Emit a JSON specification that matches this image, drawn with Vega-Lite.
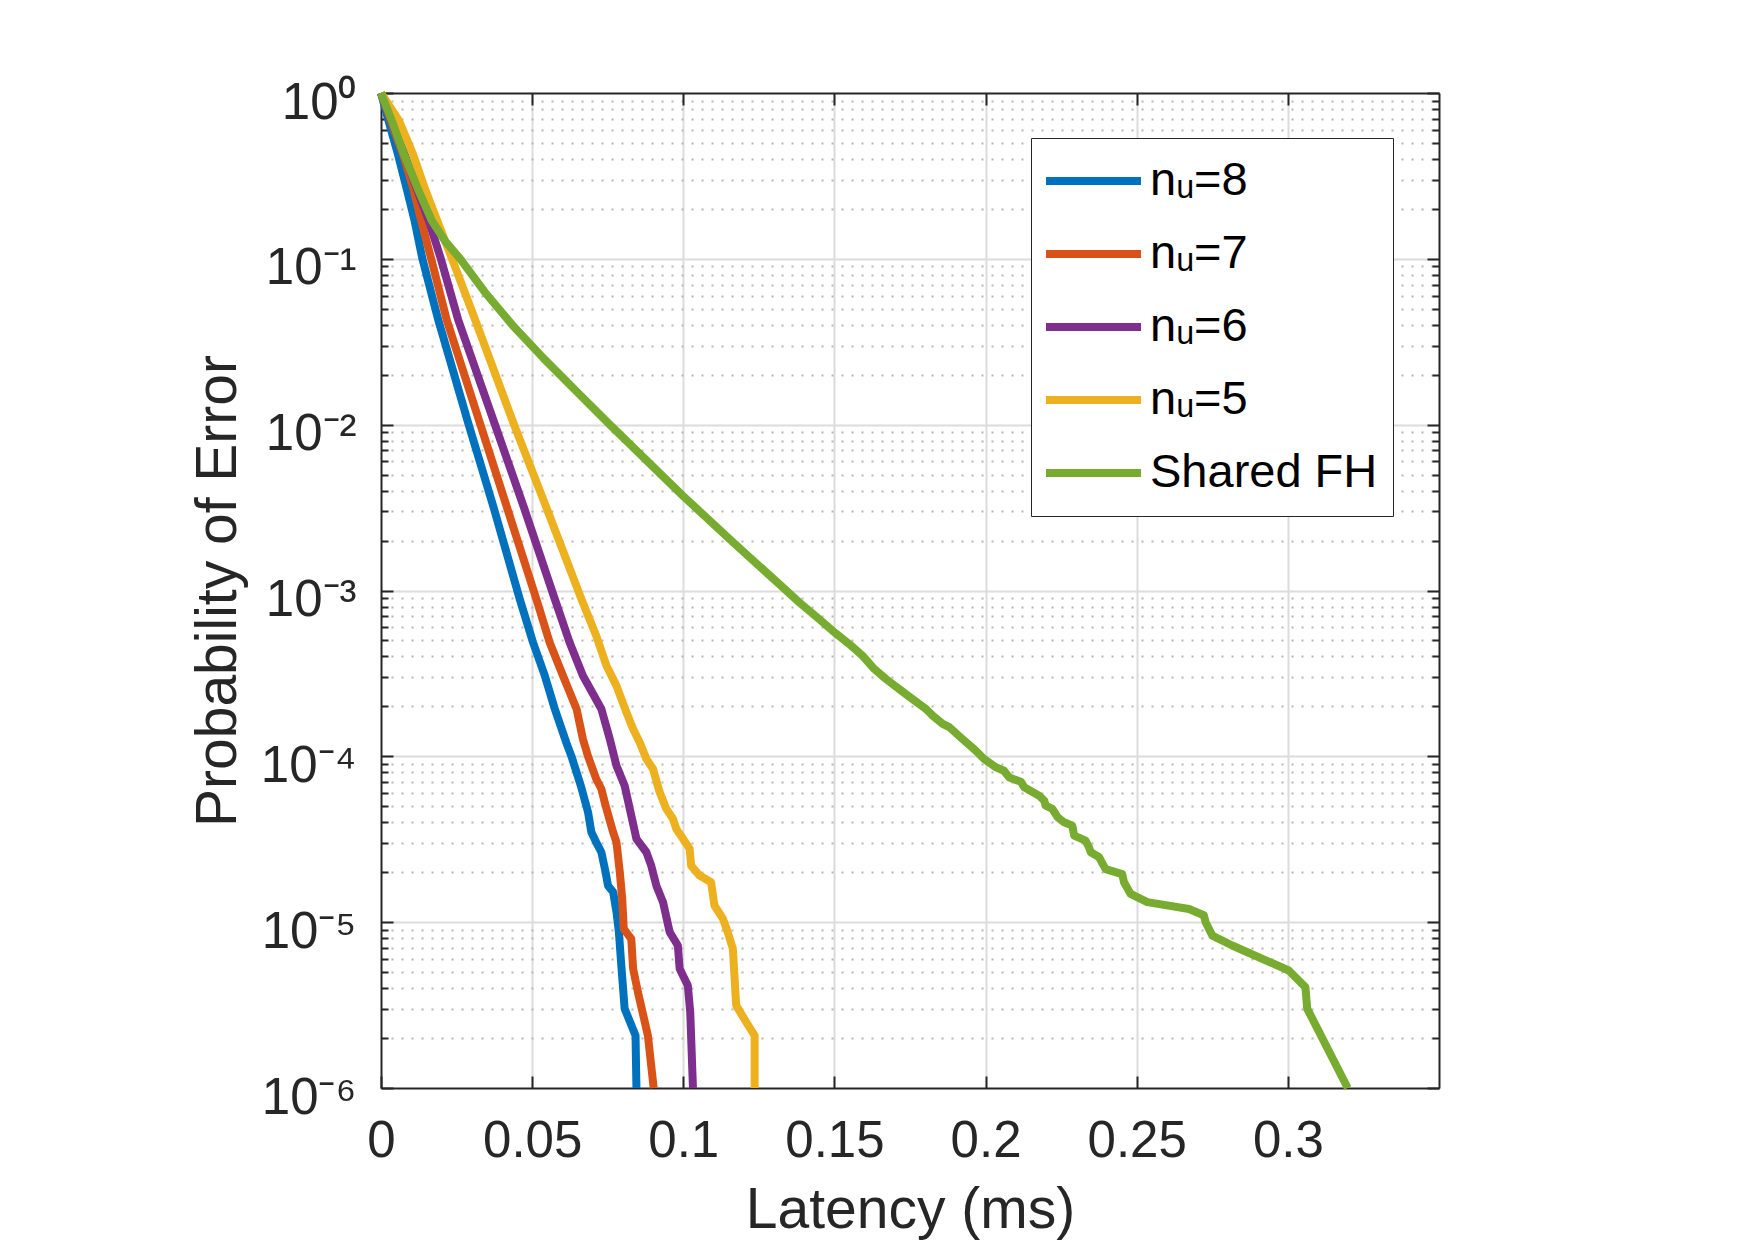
{
  "$schema": "https://vega.github.io/schema/vega-lite/v6.json",
  "width": 1058,
  "height": 995,
  "autosize": {"type": "none"},
  "padding": {"left": 381, "top": 93, "right": 315, "bottom": 153},
  "background": "white",
  "config": {
    "view": {"stroke": null},
    "font": "Liberation Sans"
  },
  "layer": [
    {
      "data": {
        "values": [
          {"series": "nᵤ=8", "x": 0, "p": 1},
          {"series": "nᵤ=8", "x": 0.0025, "p": 0.678},
          {"series": "nᵤ=8", "x": 0.0056, "p": 0.427},
          {"series": "nᵤ=8", "x": 0.0084, "p": 0.269},
          {"series": "nᵤ=8", "x": 0.0111, "p": 0.17},
          {"series": "nᵤ=8", "x": 0.0137, "p": 0.1},
          {"series": "nᵤ=8", "x": 0.0189, "p": 0.0431},
          {"series": "nᵤ=8", "x": 0.029, "p": 0.01},
          {"series": "nᵤ=8", "x": 0.0371, "p": 0.00324},
          {"series": "nᵤ=8", "x": 0.0459, "p": 0.000887},
          {"series": "nᵤ=8", "x": 0.0503, "p": 0.000486},
          {"series": "nᵤ=8", "x": 0.0542, "p": 0.000306},
          {"series": "nᵤ=8", "x": 0.0575, "p": 0.000193},
          {"series": "nᵤ=8", "x": 0.0613, "p": 0.000121},
          {"series": "nᵤ=8", "x": 0.063, "p": 0.0001},
          {"series": "nᵤ=8", "x": 0.0661, "p": 6.65e-5},
          {"series": "nᵤ=8", "x": 0.0685, "p": 4.6e-5},
          {"series": "nᵤ=8", "x": 0.0696, "p": 3.48e-5},
          {"series": "nᵤ=8", "x": 0.0712, "p": 3.03e-5},
          {"series": "nᵤ=8", "x": 0.0729, "p": 2.64e-5},
          {"series": "nᵤ=8", "x": 0.0743, "p": 2.0e-5},
          {"series": "nᵤ=8", "x": 0.0751, "p": 1.66e-5},
          {"series": "nᵤ=8", "x": 0.0768, "p": 1.52e-5},
          {"series": "nᵤ=8", "x": 0.0779, "p": 1.15e-5},
          {"series": "nᵤ=8", "x": 0.0787, "p": 8.71e-6},
          {"series": "nᵤ=8", "x": 0.0795, "p": 5.48e-6},
          {"series": "nᵤ=8", "x": 0.0806, "p": 3.01e-6},
          {"series": "nᵤ=8", "x": 0.0842, "p": 2.07e-6},
          {"series": "nᵤ=8", "x": 0.0845, "p": 1e-6},

          {"series": "nᵤ=7", "x": 0, "p": 1},
          {"series": "nᵤ=7", "x": 0.0032, "p": 0.678},
          {"series": "nᵤ=7", "x": 0.0073, "p": 0.427},
          {"series": "nᵤ=7", "x": 0.0106, "p": 0.269},
          {"series": "nᵤ=7", "x": 0.0133, "p": 0.17},
          {"series": "nᵤ=7", "x": 0.0166, "p": 0.1},
          {"series": "nᵤ=7", "x": 0.0217, "p": 0.0431},
          {"series": "nᵤ=7", "x": 0.0329, "p": 0.01},
          {"series": "nᵤ=7", "x": 0.0415, "p": 0.00324},
          {"series": "nᵤ=7", "x": 0.0514, "p": 0.000887},
          {"series": "nᵤ=7", "x": 0.0558, "p": 0.000486},
          {"series": "nᵤ=7", "x": 0.0602, "p": 0.000306},
          {"series": "nᵤ=7", "x": 0.0647, "p": 0.000193},
          {"series": "nᵤ=7", "x": 0.0668, "p": 0.000127},
          {"series": "nᵤ=7", "x": 0.0685, "p": 0.0001},
          {"series": "nᵤ=7", "x": 0.0712, "p": 7.3e-5},
          {"series": "nᵤ=7", "x": 0.0729, "p": 6.35e-5},
          {"series": "nᵤ=7", "x": 0.0743, "p": 5.04e-5},
          {"series": "nᵤ=7", "x": 0.0768, "p": 3.48e-5},
          {"series": "nᵤ=7", "x": 0.0779, "p": 3.03e-5},
          {"series": "nᵤ=7", "x": 0.079, "p": 2.0e-5},
          {"series": "nᵤ=7", "x": 0.0798, "p": 1.38e-5},
          {"series": "nᵤ=7", "x": 0.0803, "p": 9.12e-6},
          {"series": "nᵤ=7", "x": 0.0828, "p": 7.92e-6},
          {"series": "nᵤ=7", "x": 0.0834, "p": 5.24e-6},
          {"series": "nᵤ=7", "x": 0.085, "p": 3.78e-6},
          {"series": "nᵤ=7", "x": 0.0883, "p": 2.07e-6},
          {"series": "nᵤ=7", "x": 0.0902, "p": 1e-6},

          {"series": "nᵤ=6", "x": 0, "p": 1},
          {"series": "nᵤ=6", "x": 0.0034, "p": 0.678},
          {"series": "nᵤ=6", "x": 0.0078, "p": 0.427},
          {"series": "nᵤ=6", "x": 0.0117, "p": 0.269},
          {"series": "nᵤ=6", "x": 0.0158, "p": 0.17},
          {"series": "nᵤ=6", "x": 0.0198, "p": 0.1},
          {"series": "nᵤ=6", "x": 0.0255, "p": 0.0431},
          {"series": "nᵤ=6", "x": 0.0377, "p": 0.01},
          {"series": "nᵤ=6", "x": 0.0471, "p": 0.00324},
          {"series": "nᵤ=6", "x": 0.0575, "p": 0.000887},
          {"series": "nᵤ=6", "x": 0.0624, "p": 0.000486},
          {"series": "nᵤ=6", "x": 0.0668, "p": 0.000306},
          {"series": "nᵤ=6", "x": 0.0729, "p": 0.000193},
          {"series": "nᵤ=6", "x": 0.0757, "p": 0.000127},
          {"series": "nᵤ=6", "x": 0.0779, "p": 8.77e-5},
          {"series": "nᵤ=6", "x": 0.0806, "p": 6.65e-5},
          {"series": "nᵤ=6", "x": 0.0828, "p": 4.39e-5},
          {"series": "nᵤ=6", "x": 0.0845, "p": 3.18e-5},
          {"series": "nᵤ=6", "x": 0.0878, "p": 2.64e-5},
          {"series": "nᵤ=6", "x": 0.0894, "p": 2.19e-5},
          {"series": "nᵤ=6", "x": 0.0911, "p": 1.66e-5},
          {"series": "nᵤ=6", "x": 0.0933, "p": 1.32e-5},
          {"series": "nᵤ=6", "x": 0.0955, "p": 8.71e-6},
          {"series": "nᵤ=6", "x": 0.0982, "p": 7.23e-6},
          {"series": "nᵤ=6", "x": 0.0988, "p": 5.24e-6},
          {"series": "nᵤ=6", "x": 0.1015, "p": 4.15e-6},
          {"series": "nᵤ=6", "x": 0.1023, "p": 2.87e-6},
          {"series": "nᵤ=6", "x": 0.1032, "p": 1e-6},

          {"series": "nᵤ=5", "x": 0, "p": 1},
          {"series": "nᵤ=5", "x": 0.006, "p": 0.678},
          {"series": "nᵤ=5", "x": 0.0106, "p": 0.427},
          {"series": "nᵤ=5", "x": 0.0144, "p": 0.269},
          {"series": "nᵤ=5", "x": 0.0186, "p": 0.17},
          {"series": "nᵤ=5", "x": 0.0235, "p": 0.1},
          {"series": "nᵤ=5", "x": 0.0311, "p": 0.0431},
          {"series": "nᵤ=5", "x": 0.044, "p": 0.01},
          {"series": "nᵤ=5", "x": 0.0545, "p": 0.00324},
          {"series": "nᵤ=5", "x": 0.0663, "p": 0.000887},
          {"series": "nᵤ=5", "x": 0.0712, "p": 0.000533},
          {"series": "nᵤ=5", "x": 0.0746, "p": 0.000352},
          {"series": "nᵤ=5", "x": 0.0779, "p": 0.000266},
          {"series": "nᵤ=5", "x": 0.0812, "p": 0.000184},
          {"series": "nᵤ=5", "x": 0.0834, "p": 0.000146},
          {"series": "nᵤ=5", "x": 0.0856, "p": 0.000121},
          {"series": "nᵤ=5", "x": 0.0878, "p": 9.64e-5},
          {"series": "nᵤ=5", "x": 0.09, "p": 8.38e-5},
          {"series": "nᵤ=5", "x": 0.0922, "p": 6.07e-5},
          {"series": "nᵤ=5", "x": 0.0944, "p": 4.82e-5},
          {"series": "nᵤ=5", "x": 0.0966, "p": 4.19e-5},
          {"series": "nᵤ=5", "x": 0.0977, "p": 3.65e-5},
          {"series": "nᵤ=5", "x": 0.0999, "p": 3.18e-5},
          {"series": "nᵤ=5", "x": 0.1021, "p": 2.77e-5},
          {"series": "nᵤ=5", "x": 0.1026, "p": 2.19e-5},
          {"series": "nᵤ=5", "x": 0.1054, "p": 1.91e-5},
          {"series": "nᵤ=5", "x": 0.1092, "p": 1.74e-5},
          {"series": "nᵤ=5", "x": 0.1103, "p": 1.26e-5},
          {"series": "nᵤ=5", "x": 0.1131, "p": 1.05e-5},
          {"series": "nᵤ=5", "x": 0.1147, "p": 8.71e-6},
          {"series": "nᵤ=5", "x": 0.1164, "p": 6.9e-6},
          {"series": "nᵤ=5", "x": 0.1175, "p": 3.15e-6},
          {"series": "nᵤ=5", "x": 0.1208, "p": 2.5e-6},
          {"series": "nᵤ=5", "x": 0.1236, "p": 2.07e-6},
          {"series": "nᵤ=5", "x": 0.1236, "p": 1e-6},

          {"series": "Shared FH", "x": 0, "p": 1},
          {"series": "Shared FH", "x": 0.0036, "p": 0.678},
          {"series": "Shared FH", "x": 0.0076, "p": 0.427},
          {"series": "Shared FH", "x": 0.012, "p": 0.269},
          {"series": "Shared FH", "x": 0.0168, "p": 0.17},
          {"series": "Shared FH", "x": 0.0212, "p": 0.128},
          {"series": "Shared FH", "x": 0.0262, "p": 0.1},
          {"series": "Shared FH", "x": 0.0343, "p": 0.0631},
          {"series": "Shared FH", "x": 0.0435, "p": 0.0398},
          {"series": "Shared FH", "x": 0.0538, "p": 0.0251},
          {"series": "Shared FH", "x": 0.0648, "p": 0.0158},
          {"series": "Shared FH", "x": 0.0757, "p": 0.01},
          {"series": "Shared FH", "x": 0.0999, "p": 0.00372},
          {"series": "Shared FH", "x": 0.1165, "p": 0.00195},
          {"series": "Shared FH", "x": 0.1318, "p": 0.00109},
          {"series": "Shared FH", "x": 0.1384, "p": 0.000847},
          {"series": "Shared FH", "x": 0.145, "p": 0.000671},
          {"series": "Shared FH", "x": 0.1494, "p": 0.000571},
          {"series": "Shared FH", "x": 0.1549, "p": 0.000475},
          {"series": "Shared FH", "x": 0.1593, "p": 0.000404},
          {"series": "Shared FH", "x": 0.1632, "p": 0.000336},
          {"series": "Shared FH", "x": 0.1671, "p": 0.000292},
          {"series": "Shared FH", "x": 0.1715, "p": 0.000254},
          {"series": "Shared FH", "x": 0.1759, "p": 0.000221},
          {"series": "Shared FH", "x": 0.1803, "p": 0.000193},
          {"series": "Shared FH", "x": 0.1825, "p": 0.000176},
          {"series": "Shared FH", "x": 0.1858, "p": 0.000157},
          {"series": "Shared FH", "x": 0.188, "p": 0.00015},
          {"series": "Shared FH", "x": 0.1924, "p": 0.000127},
          {"series": "Shared FH", "x": 0.1968, "p": 0.000108},
          {"series": "Shared FH", "x": 0.1995, "p": 9.64e-5},
          {"series": "Shared FH", "x": 0.2034, "p": 8.59e-5},
          {"series": "Shared FH", "x": 0.2061, "p": 8.19e-5},
          {"series": "Shared FH", "x": 0.2078, "p": 7.46e-5},
          {"series": "Shared FH", "x": 0.2117, "p": 7.03e-5},
          {"series": "Shared FH", "x": 0.2128, "p": 6.5e-5},
          {"series": "Shared FH", "x": 0.2177, "p": 5.79e-5},
          {"series": "Shared FH", "x": 0.2194, "p": 5.41e-5},
          {"series": "Shared FH", "x": 0.2199, "p": 5.04e-5},
          {"series": "Shared FH", "x": 0.2221, "p": 4.82e-5},
          {"series": "Shared FH", "x": 0.2238, "p": 4.3e-5},
          {"series": "Shared FH", "x": 0.226, "p": 4.0e-5},
          {"series": "Shared FH", "x": 0.2287, "p": 3.82e-5},
          {"series": "Shared FH", "x": 0.2293, "p": 3.33e-5},
          {"series": "Shared FH", "x": 0.2331, "p": 3.1e-5},
          {"series": "Shared FH", "x": 0.2342, "p": 2.83e-5},
          {"series": "Shared FH", "x": 0.2348, "p": 2.64e-5},
          {"series": "Shared FH", "x": 0.2375, "p": 2.47e-5},
          {"series": "Shared FH", "x": 0.2397, "p": 2.09e-5},
          {"series": "Shared FH", "x": 0.2452, "p": 1.95e-5},
          {"series": "Shared FH", "x": 0.2458, "p": 1.74e-5},
          {"series": "Shared FH", "x": 0.248, "p": 1.48e-5},
          {"series": "Shared FH", "x": 0.2535, "p": 1.32e-5},
          {"series": "Shared FH", "x": 0.2673, "p": 1.2e-5},
          {"series": "Shared FH", "x": 0.2722, "p": 1.1e-5},
          {"series": "Shared FH", "x": 0.2728, "p": 1.0e-5},
          {"series": "Shared FH", "x": 0.275, "p": 8.3e-6},
          {"series": "Shared FH", "x": 0.2816, "p": 7.23e-6},
          {"series": "Shared FH", "x": 0.3003, "p": 5.11e-6},
          {"series": "Shared FH", "x": 0.3058, "p": 4.06e-6},
          {"series": "Shared FH", "x": 0.3064, "p": 3.01e-6},
          {"series": "Shared FH", "x": 0.3198, "p": 1e-6}
        ]
      },
      "mark": {"type": "line", "strokeWidth": 8, "strokeJoin": "round"},
      "encoding": {
        "x": {
          "field": "x",
          "type": "quantitative",
          "scale": {"domain": [0, 0.35], "nice": false, "zero": false},
          "axis": {
            "orient": "bottom",
            "values": [0, 0.05, 0.1, 0.15, 0.2, 0.25, 0.3],
            "format": "~g",
            "labelFont": "Liberation Sans",
            "labelFontSize": 51,
            "labelColor": "#262626",
            "labelPadding": 40,
            "labelFlush": false,
            "labelOverlap": false,
            "ticks": true,
            "tickSize": -12,
            "tickWidth": 2,
            "tickColor": "#262626",
            "grid": true,
            "gridColor": "#dcdcdc",
            "gridWidth": 2,
            "gridOpacity": {"condition": {"test": "datum.value == 0", "value": 0}, "value": 1},
            "domain": true,
            "domainColor": "#262626",
            "domainWidth": 2,
            "title": "Latency (ms)",
            "titleFont": "Liberation Sans",
            "titleFontSize": 57,
            "titleFontWeight": "normal",
            "titleColor": "#262626",
            "titleBaseline": "alphabetic",
            "titleY": 139,
            "zindex": 0
          }
        },
        "y": {
          "field": "p",
          "type": "quantitative",
          "scale": {"type": "log", "domain": [1e-6, 1], "nice": false},
          "axis": {
            "orient": "left",
            "values": [1e-6, 2e-6, 3e-6, 4e-6, 5e-6, 6e-6, 7e-6, 8e-6, 9e-6,
                       1e-5, 2e-5, 3e-5, 4e-5, 5e-5, 6e-5, 7e-5, 8e-5, 9e-5,
                       1e-4, 2e-4, 3e-4, 4e-4, 5e-4, 6e-4, 7e-4, 8e-4, 9e-4,
                       1e-3, 2e-3, 3e-3, 4e-3, 5e-3, 6e-3, 7e-3, 8e-3, 9e-3,
                       1e-2, 2e-2, 3e-2, 4e-2, 5e-2, 6e-2, 7e-2, 8e-2, 9e-2,
                       0.1, 0.2, 0.3, 0.4, 0.5, 0.6, 0.7, 0.8, 0.9, 1],
            "labelExpr": "abs(log(datum.value)/LN10 - round(log(datum.value)/LN10)) > 0.01 ? '' : ['10⁻⁶','10⁻⁵','10⁻⁴','10⁻³','10⁻²','10⁻¹','10⁰'][round(log(datum.value)/LN10) + 6]",
            "labelFont": "Liberation Sans",
            "labelFontSize": 51,
            "labelColor": "#262626",
            "labelPadding": 37,
            "labelBaseline": "middle",
            "labelOffset": 10,
            "labelOverlap": false,
            "labelFlush": false,
            "ticks": true,
            "tickColor": "#262626",
            "tickWidth": 2,
            "tickSize": {"condition": {"test": "abs(log(datum.value)/LN10 - round(log(datum.value)/LN10)) < 0.01", "value": -12}, "value": -7},
            "grid": true,
            "gridWidth": 2,
            "gridColor": {"condition": {"test": "abs(log(datum.value)/LN10 - round(log(datum.value)/LN10)) < 0.01", "value": "#dcdcdc"}, "value": "#b5b5b5"},
            "gridDash": {"condition": {"test": "abs(log(datum.value)/LN10 - round(log(datum.value)/LN10)) < 0.01", "value": [1, 0]}, "value": [2, 8]},
            "gridOpacity": {"condition": {"test": "datum.value < 1.5e-6 || datum.value > 0.95", "value": 0}, "value": 1},
            "domain": true,
            "domainColor": "#262626",
            "domainWidth": 2,
            "title": "Probability of Error",
            "titleFont": "Liberation Sans",
            "titleFontSize": 57,
            "titleFontWeight": "normal",
            "titleColor": "#262626",
            "titleBaseline": "alphabetic",
            "titleX": -146,
            "zindex": 0
          }
        },
        "color": {
          "field": "series",
          "type": "nominal",
          "scale": {
            "domain": ["nᵤ=8", "nᵤ=7", "nᵤ=6", "nᵤ=5", "Shared FH"],
            "range": ["#0072BD", "#D95319", "#7E2F8E", "#EDB120", "#77AC30"]
          },
          "legend": {
            "title": null,
            "orient": "none",
            "legendX": 650,
            "legendY": 45,
            "symbolType": "stroke",
            "symbolSize": 9409,
            "symbolStrokeWidth": 8,
            "symbolOffset": -6,
            "labelOffset": 5,
            "labelFont": "Liberation Sans",
            "labelFontSize": 47,
            "labelColor": "#000000",
            "labelLimit": 400,
            "padding": 15,
            "rowPadding": 17,
            "clipHeight": 56,
            "fillColor": "white",
            "strokeColor": "#262626"
          }
        },
        "order": {"value": null}
      }
    },
    {
      "data": {"values": [{}]},
      "mark": {"type": "point", "opacity": 0},
      "encoding": {
        "x": {
          "datum": 0,
          "type": "quantitative",
          "scale": {"domain": [0, 0.35], "nice": false, "zero": false},
          "axis": {
            "orient": "top",
            "values": [0, 0.05, 0.1, 0.15, 0.2, 0.25, 0.3],
            "labels": false,
            "ticks": true,
            "tickSize": -12,
            "tickWidth": 2,
            "tickColor": "#262626",
            "grid": false,
            "domain": true,
            "domainColor": "#262626",
            "domainWidth": 2,
            "title": null,
            "zindex": 0
          }
        },
        "y": {
          "datum": 1,
          "type": "quantitative",
          "scale": {"type": "log", "domain": [1e-6, 1], "nice": false},
          "axis": {
            "orient": "right",
            "values": [1e-6, 2e-6, 3e-6, 4e-6, 5e-6, 6e-6, 7e-6, 8e-6, 9e-6,
                       1e-5, 2e-5, 3e-5, 4e-5, 5e-5, 6e-5, 7e-5, 8e-5, 9e-5,
                       1e-4, 2e-4, 3e-4, 4e-4, 5e-4, 6e-4, 7e-4, 8e-4, 9e-4,
                       1e-3, 2e-3, 3e-3, 4e-3, 5e-3, 6e-3, 7e-3, 8e-3, 9e-3,
                       1e-2, 2e-2, 3e-2, 4e-2, 5e-2, 6e-2, 7e-2, 8e-2, 9e-2,
                       0.1, 0.2, 0.3, 0.4, 0.5, 0.6, 0.7, 0.8, 0.9, 1],
            "labels": false,
            "ticks": true,
            "tickColor": "#262626",
            "tickWidth": 2,
            "tickSize": {"condition": {"test": "abs(log(datum.value)/LN10 - round(log(datum.value)/LN10)) < 0.01", "value": -12}, "value": -7},
            "grid": false,
            "domain": true,
            "domainColor": "#262626",
            "domainWidth": 2,
            "title": null,
            "zindex": 0
          }
        }
      }
    }
  ],
  "resolve": {"axis": {"x": "independent", "y": "independent"}}
}
